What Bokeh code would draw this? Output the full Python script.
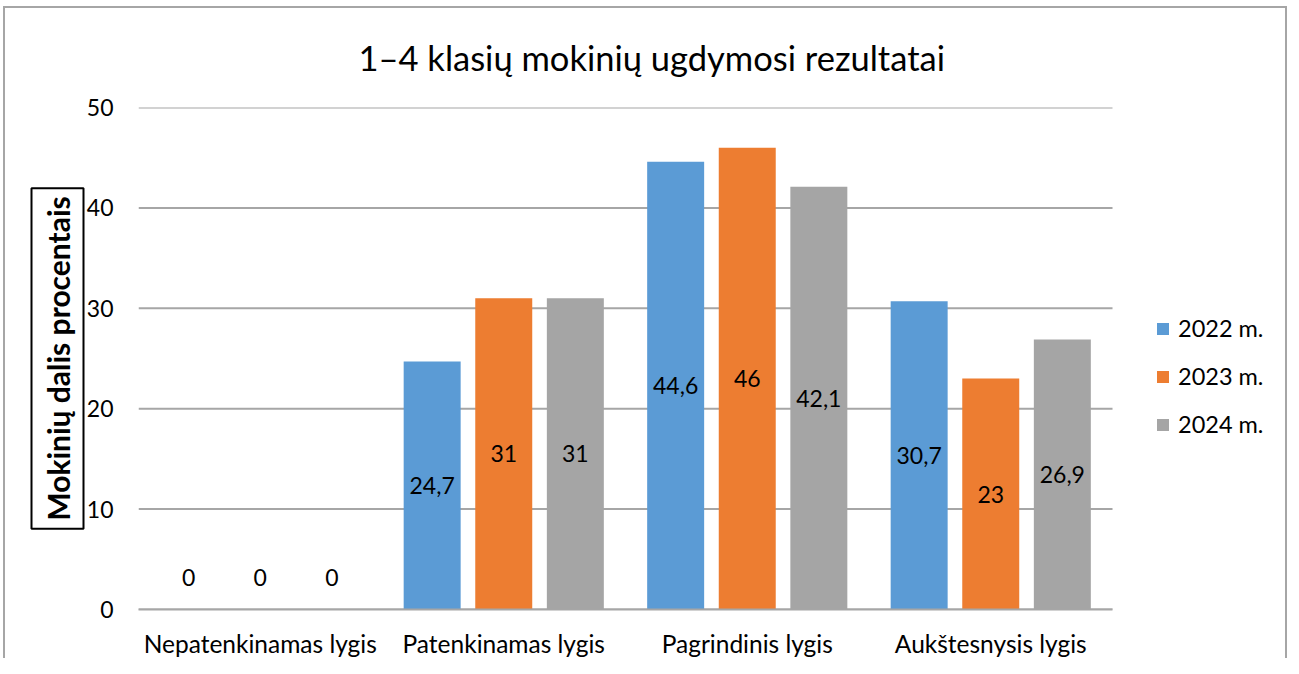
import math
from bokeh.plotting import figure
from bokeh.models import ColumnDataSource, Range1d, LabelSet, Legend, LegendItem, FixedTicker, Title
from bokeh.core.properties import value
from bokeh.embed import file_html
from bokeh.resources import INLINE

categories = ["Nepatenkinamas lygis", "Patenkinamas lygis", "Pagrindinis lygis", "Aukštesnysis lygis"]
series_names = ["2022 m.", "2023 m.", "2024 m."]
values_2022 = [0, 24.7, 44.6, 30.7]
values_2023 = [0, 31, 46, 23]
values_2024 = [0, 31, 42.1, 26.9]
y_ticks = [0, 10, 20, 30, 40, 50]

title_text = "1–4 klasių mokinių ugdymosi rezultatai"
y_title = "Mokinių dalis procentais"

colors = ["#5B9BD5", "#ED7D31", "#A5A5A5"]
FONT = "Lato"
GRID = "#a6a6a6"
offsets = [-0.294, 0.0, 0.294]
bar_w = 0.234

n_cat = len(categories)
cat_x = [i + 0.5 for i in range(n_cat)]
# category axis occupies 0..n_cat; extra room on the right for the legend
x_end = n_cat * 1151 / 974

p = figure(x_range=Range1d(0, x_end), y_range=Range1d(0, 50),
           width=1284, height=652, output_backend="svg", toolbar_location=None,
           min_border_left=133, min_border_right=0, min_border_top=99, min_border_bottom=40)
p.styles = {"margin": "6px 0 0 3px",
            "border-left": "2px solid #a6a6a6", "border-top": "2px solid #a6a6a6",
            "border-right": "2px solid #a6a6a6"}
p.outline_line_color = None
p.background_fill_color = "white"
p.border_fill_color = "white"

p.title.text = title_text
p.title.align = "left"
p.title.offset = 220
p.title.vertical_align = "top"
p.title.text_font = FONT
p.title.text_font_style = "normal"
p.title.text_font_size = "34.5px"
p.title.text_color = "#000000"
p.title.standoff = 55

# horizontal gridlines limited to the category area
p.segment(x0=[0] * len(y_ticks), x1=[n_cat] * len(y_ticks), y0=y_ticks, y1=y_ticks,
          line_color=GRID, line_width=2)

items = []
for vals, name, col, off in zip([values_2022, values_2023, values_2024], series_names, colors, offsets):
    labels = [("%g" % v).replace(".", ",") for v in vals]
    xs = [c + off for c in cat_x]
    ly = [v / 2 for v in vals]
    yoff = [32 if v == 0 else 0 for v in vals]
    src = ColumnDataSource(dict(x=xs, val=vals, lab=labels, ly=ly, yoff=yoff))
    r = p.vbar(x="x", top="val", width=bar_w, source=src, fill_color=col, line_color=None)
    items.append(LegendItem(label=name, renderers=[r]))
    ls = LabelSet(x="x", y="ly", text="lab", y_offset="yoff", source=src,
                  text_align="center", text_baseline="middle", text_font=value(FONT),
                  text_font_size=value("23px"), text_color=value("#000000"))
    p.add_layout(ls)

p.yaxis.ticker = FixedTicker(ticks=y_ticks)
p.yaxis.axis_line_color = None
p.yaxis.major_tick_line_color = None
p.yaxis.minor_tick_line_color = None
p.yaxis.major_label_standoff = 19
p.yaxis.major_label_text_font = FONT
p.yaxis.major_label_text_font_size = "23px"
p.yaxis.major_label_text_color = "#000000"

p.xaxis.ticker = FixedTicker(ticks=cat_x)
p.xaxis.major_label_overrides = {c: name for c, name in zip(cat_x, categories)}
p.xaxis.bounds = (0, n_cat)
p.xaxis.axis_line_color = GRID
p.xaxis.axis_line_width = 2
p.xaxis.major_tick_line_color = None
p.xaxis.minor_tick_line_color = None
p.xaxis.major_label_standoff = 13
p.xaxis.major_label_text_font = FONT
p.xaxis.major_label_text_font_size = "24.5px"
p.xaxis.major_label_text_color = "#000000"

p.xgrid.grid_line_color = None
p.ygrid.grid_line_color = None

legend = Legend(items=items, location=(1017, 171), orientation="vertical",
                background_fill_alpha=0, border_line_color=None, padding=0, margin=0,
                glyph_width=15, glyph_height=15, label_standoff=8, spacing=20, label_height=24,
                label_text_font=FONT, label_text_font_size="23.5px", label_text_color="#000000")
p.add_layout(legend, "center")

ytitle = Title(text=y_title, align="center", text_font=FONT, text_font_style="bold",
               text_font_size="30px", text_color="#000000", standoff=0,
               border_line_color="#000000", border_line_width=2, padding=8)
p.add_layout(ytitle, "left")

open("out.html", "w").write(file_html(p, INLINE))
